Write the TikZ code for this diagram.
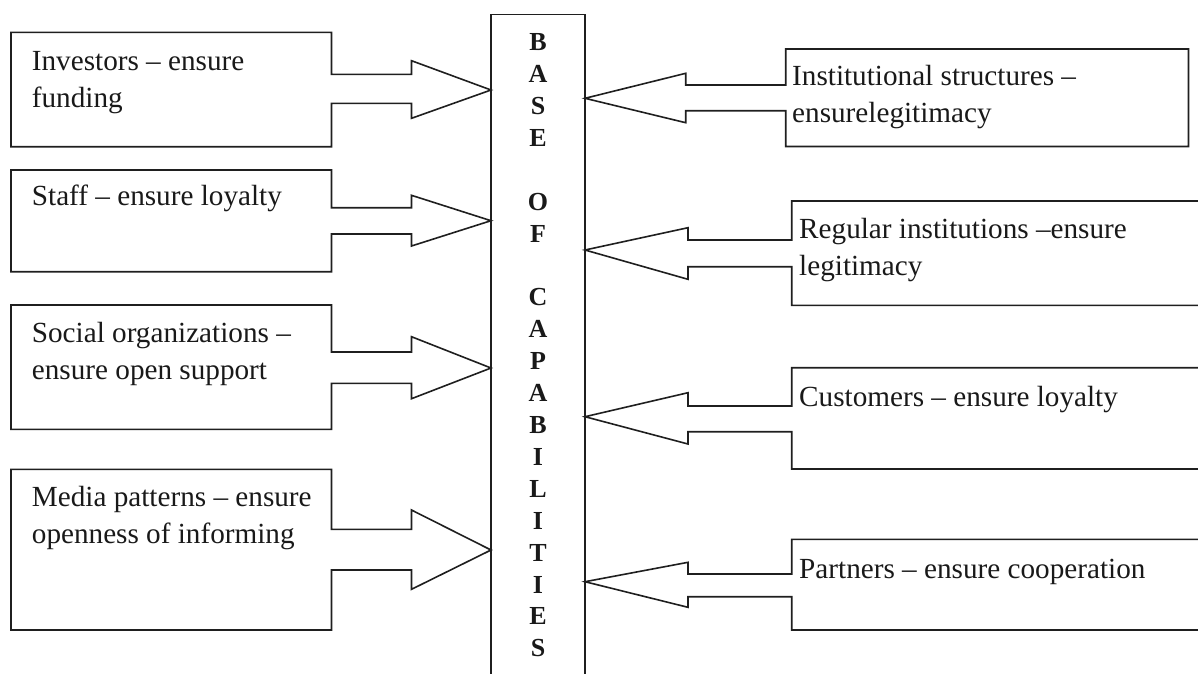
\documentclass[tikz,border=0pt]{standalone}
\usepackage{fontspec}
\setmainfont{Liberation Serif}
\tikzset{
  outline/.style={draw=black!88, line width=1.6pt, line join=miter},
  boxtext/.style={anchor=base west, inner sep=0pt, text=black!90, font=\fontsize{29.2}{37}\selectfont},
  coltext/.style={anchor=base, inner sep=0pt, text=black!90, font=\fontsize{26}{31.9}\selectfont\bfseries},
}
\begin{document}
\begin{tikzpicture}[x=1pt,y=-1pt]
\useasboundingbox (0,0) rectangle (1198,673);
\clip (0,0) rectangle (1198,673);
% central column
\draw[outline] (491,14.3) rectangle (585,690);
\node[coltext] (base) at (538,50.7) {\begin{tabular}[t]{@{}c@{}}B\\A\\S\\E\\ \\O\\F\\ \\C\\A\\P\\A\\B\\I\\L\\I\\T\\I\\E\\S\end{tabular}};
% left units: box + block arrow
\draw[outline] (11,32.3) -- (331.5,32.3) -- (331.5,74.3) -- (411.5,74.3) -- (411.5,60.7) -- (491,90) -- (411.5,118.3) -- (411.5,103.3) -- (331.5,103.3) -- (331.5,146.7) -- (11,146.7) -- cycle;
\draw[outline] (11,170) -- (331.5,170) -- (331.5,207.7) -- (411.5,207.7) -- (411.5,195.3) -- (491,220.7) -- (411.5,246) -- (411.5,234) -- (331.5,234) -- (331.5,271.7) -- (11,271.7) -- cycle;
\draw[outline] (11,305) -- (331.5,305) -- (331.5,352) -- (411.5,352) -- (411.5,336.7) -- (491,368) -- (411.5,398.7) -- (411.5,383.3) -- (331.5,383.3) -- (331.5,429.3) -- (11,429.3) -- cycle;
\draw[outline] (11,469.3) -- (331.5,469.3) -- (331.5,529.3) -- (411.5,529.3) -- (411.5,510) -- (491,550) -- (411.5,589.3) -- (411.5,570) -- (331.5,570) -- (331.5,630) -- (11,630) -- cycle;
\node[boxtext] (investors) at (31.7,70.7) {\begin{tabular}[t]{@{}l@{}}Investors -- ensure\\funding\end{tabular}};
\node[boxtext] (staff) at (31.7,205) {\begin{tabular}[t]{@{}l@{}}Staff -- ensure loyalty\end{tabular}};
\node[boxtext] (social) at (31.7,342.7) {\begin{tabular}[t]{@{}l@{}}Social organizations --\\ensure open support\end{tabular}};
\node[boxtext] (media) at (31.7,506.7) {\begin{tabular}[t]{@{}l@{}}Media patterns -- ensure\\openness of informing\end{tabular}};
% right units
\draw[outline] (585,98.3) -- (685.7,73.3) -- (685.7,85) -- (785.7,85) -- (785.7,49) -- (1188.5,49) -- (1188.5,146.5) -- (785.7,146.5) -- (785.7,110.7) -- (685.7,110.7) -- (685.7,122.7) -- cycle;
\draw[outline] (585,250) -- (688,227.7) -- (688,240) -- (791.7,240) -- (791.7,201) -- (1210,201) -- (1210,305.3) -- (791.7,305.3) -- (791.7,266.7) -- (688,266.7) -- (688,279.3) -- cycle;
\draw[outline] (585,416.7) -- (688,392.7) -- (688,406) -- (791.7,406) -- (791.7,367.7) -- (1210,367.7) -- (1210,469) -- (791.7,469) -- (791.7,431.7) -- (688,431.7) -- (688,444) -- cycle;
\draw[outline] (585,581.7) -- (688,562.3) -- (688,574) -- (791.7,574) -- (791.7,539.3) -- (1210,539.3) -- (1210,630) -- (791.7,630) -- (791.7,596.7) -- (688,596.7) -- (688,607.3) -- cycle;
\node[boxtext] (institutional) at (792,85) {\begin{tabular}[t]{@{}l@{}}Institutional structures --\\ensurelegitimacy\end{tabular}};
\node[boxtext] (regular) at (799,238.3) {\begin{tabular}[t]{@{}l@{}}Regular institutions --ensure\\legitimacy\end{tabular}};
\node[boxtext] (customers) at (799,406) {\begin{tabular}[t]{@{}l@{}}Customers -- ensure loyalty\end{tabular}};
\node[boxtext] (partners) at (799,578.3) {\begin{tabular}[t]{@{}l@{}}Partners -- ensure cooperation\end{tabular}};
\end{tikzpicture}
\end{document}
